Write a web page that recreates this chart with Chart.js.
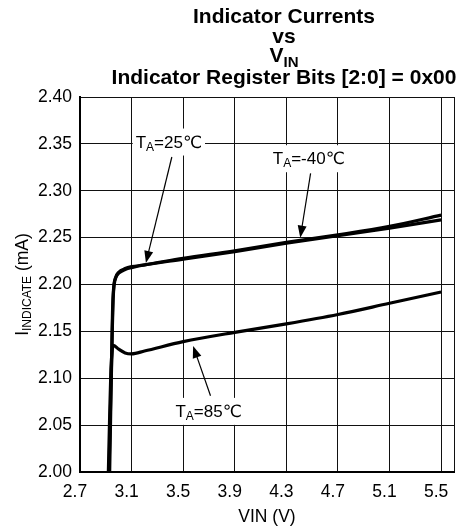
<!DOCTYPE html>
<html>
<head>
<meta charset="utf-8">
<script src="https://cdn.jsdelivr.net/npm/chart.js@4"></script>
<style>
  html, body { margin: 0; padding: 0; background: #fff; }
  #myChart { width: 466px; height: 527px; display: block; }
</style>
</head>
<body>
<canvas id="myChart" width="466" height="527"></canvas>
<script>
// values (VIN in V, current in mA)
const vin25 = [2.925, 2.935, 2.945, 2.952, 2.96, 2.975, 3.0, 3.05, 3.1, 3.2, 3.5, 3.9, 4.3, 4.7, 5.1, 5.5]
const cur25 = [2.000, 2.060, 2.120, 2.170, 2.195, 2.207, 2.213, 2.217, 2.219, 2.221, 2.228, 2.236, 2.245, 2.253, 2.262, 2.274]

const vinM40 = [2.93, 2.94, 2.95, 2.957, 2.965, 2.98, 3.0, 3.05, 3.1, 3.5, 3.9, 4.3, 4.7, 5.1, 5.5]
const curM40 = [2.000, 2.080, 2.150, 2.185, 2.200, 2.208, 2.212, 2.216, 2.218, 2.227, 2.235, 2.244, 2.252, 2.260, 2.269]

const vin85 = [2.92, 2.93, 2.94, 2.95, 2.96, 3.0, 3.05, 3.1, 3.2, 3.5, 3.9, 4.3, 4.7, 5.1, 5.5]
const cur85 = [2.000, 2.060, 2.110, 2.130, 2.135, 2.131, 2.127, 2.126, 2.129, 2.139, 2.149, 2.158, 2.168, 2.180, 2.192]

const xTicks = [2.7, 3.1, 3.5, 3.9, 4.3, 4.7, 5.1, 5.5]
const yTicks = [2.00, 2.05, 2.10, 2.15, 2.20, 2.25, 2.30, 2.35, 2.40]
const xMax = 5.6

const FONT = '"Liberation Sans", Arial, "DejaVu Sans", sans-serif'

// annotation labels: text centre and arrow, in data units
const notes = [
    { sub: 'A', rest: '=25℃', at: [3.389, 2.3525], from: [3.412, 2.336], to: [3.211, 2.223] },
    { sub: 'A', rest: '=-40℃', at: [4.474, 2.3347], from: [4.488, 2.3186], to: [4.408, 2.250] },
    { sub: 'A', rest: '=85℃', at: [3.697, 2.0652], from: [3.712, 2.0813], to: [3.577, 2.1345] }
]

const toPts = (xs, ys) => xs.map((x, i) => ({ x: x, y: ys[i] }))

// draws text pieces [{t, size, dy, bold}] in a row, centred on x, baseline y
function richText(c, parts, x, y) {
    let w = 0
    parts.forEach(p => {
        c.font = (p.bold ? 'bold ' : '') + p.size + 'px ' + FONT
        p.w = c.measureText(p.t).width
        w += p.w
    })
    let cx = x - w / 2
    c.textAlign = 'left'
    c.textBaseline = 'alphabetic'
    parts.forEach(p => {
        c.font = (p.bold ? 'bold ' : '') + p.size + 'px ' + FONT
        c.fillText(p.t, cx, y + (p.dy || 0))
        cx += p.w
    })
    return w
}

const decor = {
    id: 'decor',
    afterDatasetsDraw(chart) {
        const c = chart.ctx
        const xs = chart.scales.x
        const ys = chart.scales.y
        c.save()
        c.fillStyle = '#000'
        c.strokeStyle = '#000'

        notes.forEach(n => {
            const px = xs.getPixelForValue(n.at[0])
            const py = ys.getPixelForValue(n.at[1])
            const parts = [{ t: 'T', size: 17 }, { t: n.sub, size: 12, dy: 3 }, { t: n.rest, size: 17 }]
            let w = 0
            parts.forEach(p => { c.font = p.size + 'px ' + FONT; w += c.measureText(p.t).width })
            c.fillStyle = '#fff'
            c.fillRect(px - w / 2 - 3, py - 13, w + 6, 27)
            c.fillStyle = '#000'
            richText(c, parts, px, py + 6)

            // arrow
            const x1 = xs.getPixelForValue(n.from[0]), y1 = ys.getPixelForValue(n.from[1])
            const x2 = xs.getPixelForValue(n.to[0]), y2 = ys.getPixelForValue(n.to[1])
            const a = Math.atan2(y2 - y1, x2 - x1)
            c.lineWidth = 1.2
            c.beginPath()
            c.moveTo(x1, y1)
            c.lineTo(x2 - 9 * Math.cos(a), y2 - 9 * Math.sin(a))
            c.stroke()
            c.beginPath()
            c.moveTo(x2, y2)
            c.lineTo(x2 - 12 * Math.cos(a) + 4.5 * Math.sin(a), y2 - 12 * Math.sin(a) - 4.5 * Math.cos(a))
            c.lineTo(x2 - 12 * Math.cos(a) - 4.5 * Math.sin(a), y2 - 12 * Math.sin(a) + 4.5 * Math.cos(a))
            c.closePath()
            c.fill()
        })

        // title
        const tx = 284
        richText(c, [{ t: 'Indicator Currents', size: 21, bold: true }], tx, 22.5)
        richText(c, [{ t: 'vs', size: 21, bold: true }], tx, 43)
        richText(c, [{ t: 'V', size: 21, bold: true }, { t: 'IN', size: 15, bold: true, dy: 5 }], tx, 62)
        richText(c, [{ t: 'Indicator Register Bits [2:0] = 0x00', size: 21, bold: true }], tx, 84)

        // x axis title
        const area = chart.chartArea
        richText(c, [{ t: 'VIN (V)', size: 17.5 }], (area.left + area.right) / 2, 522)

        // y axis title
        c.translate(22, (area.top + area.bottom) / 2)
        c.rotate(-Math.PI / 2)
        richText(c, [{ t: 'I', size: 17.5 }, { t: 'INDICATE', size: 12, dy: 3 }, { t: ' (mA)', size: 17.5 }], 0, 6)
        c.restore()
    }
}

const ctx = document.getElementById('myChart')

new Chart(ctx, {
    type: 'line',
    data: {
        datasets: [
            { label: 'TA=25C', data: toPts(vin25, cur25) },
            { label: 'TA=-40C', data: toPts(vinM40, curM40) },
            { label: 'TA=85C', data: toPts(vin85, cur85) }
        ]
    },
    options: {
        responsive: false,
        animation: false,
        layout: { padding: { top: 97, right: 12, left: 0, bottom: 0 } },
        elements: {
            line: { borderColor: '#000', borderWidth: 3.2, cubicInterpolationMode: 'monotone', borderJoinStyle: 'round', borderCapStyle: 'butt' },
            point: { radius: 0, hoverRadius: 0 }
        },
        plugins: {
            legend: { display: false },
            tooltip: { enabled: false },
            title: { display: false }
        },
        scales: {
            x: {
                type: 'linear',
                min: xTicks[0],
                max: xMax,
                afterFit: s => { s.height = 55 },
                afterBuildTicks: s => { s.ticks = xTicks.concat([xMax]).map(v => ({ value: v })) },
                grid: { color: '#111', lineWidth: 1, drawTicks: false },
                border: { color: '#000', width: 2 },
                ticks: {
                    color: '#000',
                    padding: 10,
                    labelOffset: -5,
                    maxRotation: 0,
                    autoSkip: false,
                    font: { family: FONT, size: 17.5 },
                    callback: v => xTicks.includes(v) ? v.toFixed(1) : ''
                }
            },
            y: {
                min: yTicks[0],
                max: yTicks[yTicks.length - 1],
                afterFit: s => { s.width = 80 },
                afterBuildTicks: s => { s.ticks = yTicks.map(v => ({ value: v })) },
                grid: { color: '#111', lineWidth: 1, drawTicks: false },
                border: { color: '#000', width: 2 },
                ticks: {
                    color: '#000',
                    padding: 8,
                    autoSkip: false,
                    font: { family: FONT, size: 17.5 },
                    callback: v => Number(v).toFixed(2)
                }
            }
        }
    },
    plugins: [decor]
})
</script>
</body>
</html>
